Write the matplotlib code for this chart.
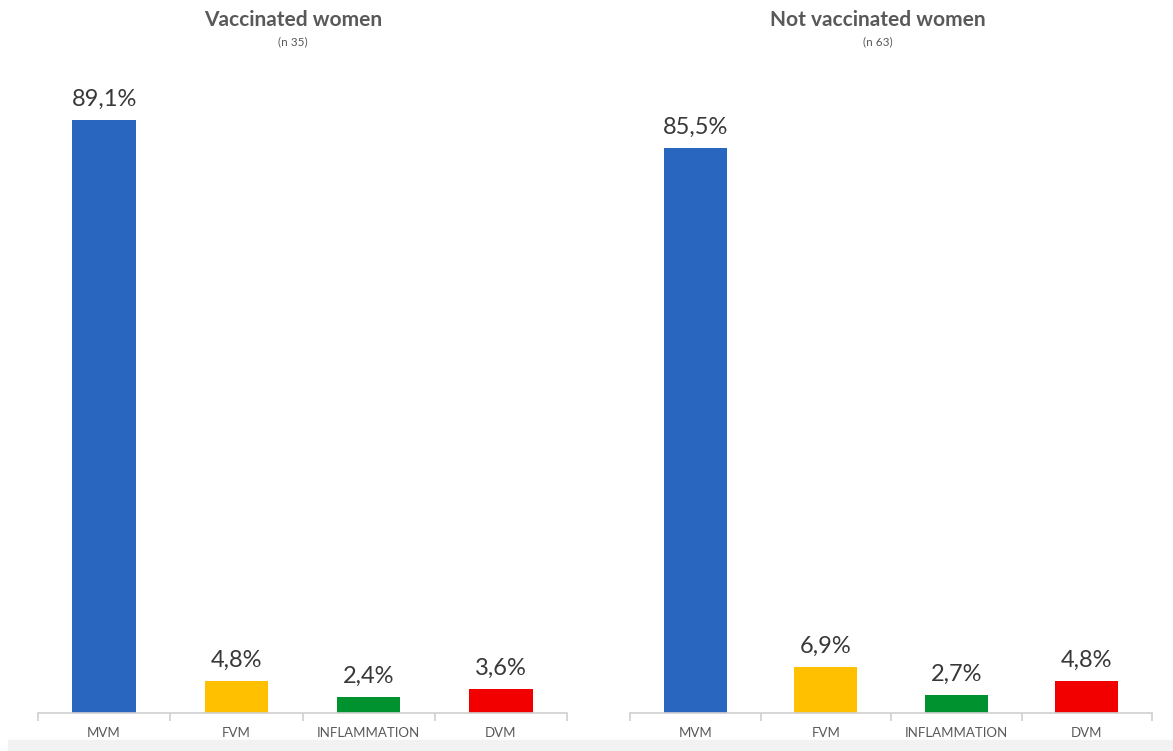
import numpy as np
import matplotlib.pyplot as plt
from matplotlib.patches import Rectangle

plt.rcParams['font.family'] = ['Lato', 'DejaVu Sans']

# data
categories = ['MVM', 'FVM', 'INFLAMMATION', 'DVM']
vaccinated = [89.1, 4.8, 2.4, 3.6]
not_vaccinated = [85.5, 6.9, 2.7, 4.8]
titles = ['Vaccinated women', 'Not vaccinated women']
subtitles = ['(n 35)', '(n 63)']
colors = ['#2966c0', '#ffc000', '#00922e', '#f20000']

fig = plt.figure(figsize=(11.73, 7.51), dpi=100)

# light grey strip along the bottom edge
fig.patches.append(Rectangle((8 / 1173, 0), 1, 11 / 751, transform=fig.transFigure,
                             color='#f2f2f2', zorder=0))

ax1 = fig.add_axes([38 / 1173, 38 / 751, 529 / 1173, 665.5 / 751])
ax2 = fig.add_axes([630 / 1173, 38 / 751, 522 / 1173, 665.5 / 751])

for ax, vals, title, sub, tx, ytop in zip([ax1, ax2], [vaccinated, not_vaccinated],
                                          titles, subtitles, [293, 878], [100, 100.7]):
    x = np.arange(len(categories))
    ax.bar(x, vals, width=0.48, color=colors)
    for xi, v in zip(x, vals):
        ax.text(xi, v + 1.6, f'{v:.1f}%'.replace('.', ','), ha='center', va='bottom',
                fontsize=17, color='#383838')
    ax.set_xlim(-0.5, len(categories) - 0.5)
    ax.set_ylim(0, ytop)
    ax.set_yticks([])
    for s in ['top', 'right', 'left']:
        ax.spines[s].set_visible(False)
    ax.spines['bottom'].set_color('#d0d0d0')
    ax.spines['bottom'].set_linewidth(1.2)
    ax.set_xticks(x)
    ax.set_xticklabels(categories, fontsize=9.5, color='#595959')
    ax.tick_params(axis='x', length=0, pad=10)
    # boundary ticks between categories
    ax.set_xticks(np.arange(-0.5, len(categories)), minor=True)
    ax.tick_params(axis='x', which='minor', length=6, color='#d0d0d0', width=1.2)
    fig.text(tx / 1173, 1 - 20 / 751, title, ha='center', va='center',
             fontsize=15, fontweight='bold', color='#595959')
    fig.text(tx / 1173, 1 - 42 / 751, sub, ha='center', va='center',
             fontsize=8.5, color='#595959')

fig.savefig('out.png', dpi=100)
